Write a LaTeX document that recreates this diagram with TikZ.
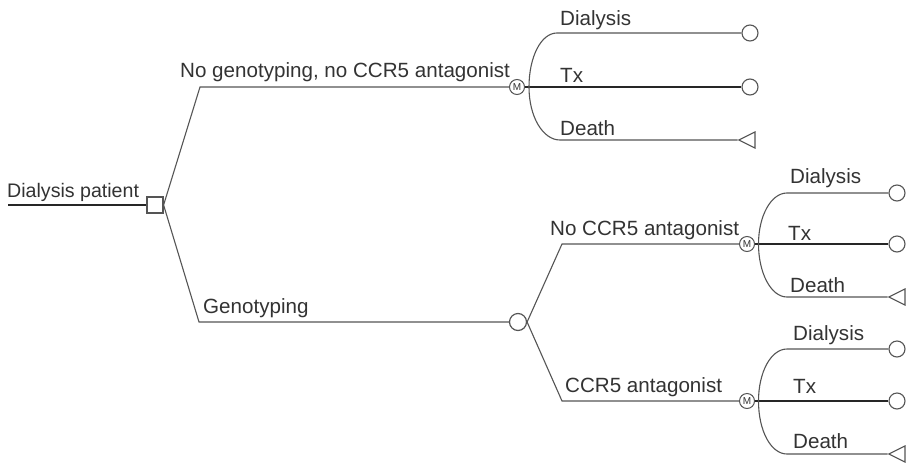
\documentclass[tikz,border=0pt]{standalone}
\usepackage{fontspec}
\setmainfont{Liberation Sans}
\usetikzlibrary{shapes.geometric}
\definecolor{linegray}{HTML}{555555}
\definecolor{txtgray}{HTML}{333333}
\begin{document}
\begin{tikzpicture}[x=1pt,y=-1pt,
  line/.style={draw=linegray, line width=1.1pt},
  thickline/.style={draw=black!85, line width=1.6pt},
  lbl/.style={anchor=base west, inner sep=0, text=txtgray, font=\fontsize{20.6}{24}\selectfont},
  decision/.style={draw=linegray, line width=1.2pt, minimum size=16pt, inner sep=0, fill=white},
  chance/.style={circle, draw=linegray, line width=1.2pt, minimum size=17pt, inner sep=0, fill=white},
  markov/.style={circle, draw=linegray, line width=1pt, minimum size=15pt, inner sep=0, fill=white, font=\fontsize{10}{10}\selectfont, text=txtgray},
  endcircle/.style={circle, draw=linegray, line width=1.1pt, minimum size=16pt, inner sep=0, fill=white},
  endtri/.style={isosceles triangle, isosceles triangle stretches, shape border rotate=180, draw=linegray, line width=1.1pt, minimum width=16pt, minimum height=16pt, inner sep=0, fill=white}
]
\useasboundingbox (0,0) rectangle (908,464);
\fill[white] (0,0) rectangle (908,464);

% nodes
\coordinate (start) at (8,205);
\node[decision] (root) at (155,205) {};
\coordinate (up) at (200,87);
\coordinate (lo) at (199,322);
\node[markov] (m1) at (517,87) {M};
\node[chance] (c1) at (518,322) {};
\coordinate (cu) at (562,244);
\coordinate (cl) at (562,401);
\node[markov] (m2) at (747,244) {M};
\node[markov] (m3) at (747,401) {M};

% terminals
\node[endcircle] (t11) at (750,33) {};
\node[endcircle] (t12) at (750,87) {};
\node[endtri] (t13) at (750,140) {};
\node[endcircle] (t21) at (897,193) {};
\node[endcircle] (t22) at (897,244) {};
\node[endtri] (t23) at (900,297) {};
\node[endcircle] (t31) at (897,349) {};
\node[endcircle] (t32) at (897,401) {};
\node[endtri] (t33) at (900,454) {};

% bracket coordinates
\coordinate (a1) at ([xshift=4pt]m1.east);
\coordinate (d11) at (557,33);
\coordinate (d13) at (560,140);
\coordinate (a2) at ([xshift=3.5pt]m2.east);
\coordinate (d21) at (787,193);
\coordinate (d23) at (787,297);
\coordinate (a3) at ([xshift=3.5pt]m3.east);
\coordinate (d31) at (787,349);
\coordinate (d33) at (787,454);

% connectors
\draw[thickline] (start) -- (root.west);
\draw[line] (root.east) -- (up) -- (m1.west);
\draw[line] (root.east) -- (lo) -- (c1.west);
\draw[line] (c1.east) -- (cu) -- (m2.west);
\draw[line] (c1.east) -- (cl) -- (m3.west);

\draw[thickline] (m1.east) -- (t12.west);
\draw[line] (a1) .. controls +(0,-30) and +(-16,0) .. (d11) -- (t11.west);
\draw[line] (a1) .. controls +(0,30) and +(-17,0) .. (d13) -- (t13.apex);

\draw[thickline] (m2.east) -- (t22.west);
\draw[line] (a2) .. controls +(0,-28) and +(-16,0) .. (d21) -- (t21.west);
\draw[line] (a2) .. controls +(0,29) and +(-16,0) .. (d23) -- (t23.apex);

\draw[thickline] (m3.east) -- (t32.west);
\draw[line] (a3) .. controls +(0,-29) and +(-16,0) .. (d31) -- (t31.west);
\draw[line] (a3) .. controls +(0,30) and +(-16,0) .. (d33) -- (t33.apex);

% labels
\node[lbl, font=\fontsize{19.6}{24}\selectfont] (l0) at (7,197) {Dialysis patient};
\node[lbl] (l1) at (180,77) {No genotyping, no CCR5 antagonist};
\node[lbl] (l2) at (203,313) {Genotyping};
\node[lbl] (l3) at (550,235) {No CCR5 antagonist};
\node[lbl] (l4) at (565,392) {CCR5 antagonist};
\node[lbl] (l11) at (560,25) {Dialysis};
\node[lbl] (l12) at (560,82) {Tx};
\node[lbl] (l13) at (560,135) {Death};
\node[lbl] (l21) at (790,183) {Dialysis};
\node[lbl] (l22) at (788,240) {Tx};
\node[lbl] (l23) at (790,292) {Death};
\node[lbl] (l31) at (793,340) {Dialysis};
\node[lbl] (l32) at (793,393) {Tx};
\node[lbl] (l33) at (793,448) {Death};
\end{tikzpicture}
\end{document}
